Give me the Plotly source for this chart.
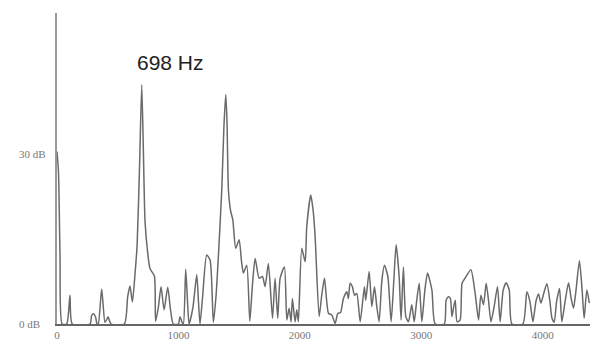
import plotly.graph_objects as go

# Spectrum of a 698 Hz tone: frequency (Hz) and level (dB)
freq_hz = [
    0, 12, 25, 42, 80, 107, 126, 272, 285, 300, 318, 330, 340, 368, 395, 410, 420, 445,
    555, 582, 601, 621, 643, 660, 680, 698, 712, 725, 745, 766, 802, 812, 835, 857, 882,
    912, 935, 958, 1000, 1013, 1030, 1041, 1060, 1075, 1088, 1120, 1151, 1165, 1178, 1200,
    1233, 1261, 1288, 1310, 1329, 1357, 1375, 1390, 1400, 1412, 1430, 1448, 1472, 1500,
    1520, 1535, 1563, 1588, 1610, 1632, 1665, 1692, 1714, 1741, 1775, 1796, 1818, 1838,
    1873, 1893, 1912, 1928, 1939, 1961, 1975, 1988, 2016, 2044, 2057, 2090, 2110, 2126,
    2159, 2180, 2203, 2236, 2263, 2291, 2313, 2335, 2359, 2387, 2400, 2414, 2433, 2450,
    2469, 2497, 2532, 2543, 2571, 2593, 2615, 2634, 2653, 2676, 2697, 2725, 2752, 2775,
    2793, 2818, 2834, 2853, 2873, 2895, 2922, 2942, 2962, 2983, 3005, 3030, 3052, 3088,
    3115, 3190, 3205, 3225, 3240, 3253, 3267, 3280, 3295, 3320, 3336, 3358, 3409, 3444,
    3472, 3491, 3513, 3535, 3555, 3574, 3600, 3628, 3650, 3675, 3700, 3725, 3747, 3837,
    3870, 3895, 3920, 3945, 3966, 3986, 4010, 4035, 4060, 4076, 4095, 4115, 4139, 4158,
    4185, 4213, 4235, 4254, 4275, 4303, 4325, 4342, 4364, 4385,
]
level_db = [
    30.5, 27, 12, 0, 0, 5.1, 0, 0, 1.5, 1.8, 1.2, 0, 0, 6.2, 0.3, 0.8, 1.3, 0,
    0, 4.8, 6.7, 3.9, 9, 14, 28, 42.3, 30, 18.2, 13, 9.8, 8.5, 0.5, 3, 6.6, 2.5,
    6.5, 2.5, 0, 0, 1.3, 0.3, 0, 9.7, 4, 0, 3, 8.7, 4, 0, 5,
    12.2, 11.3, 0.3, 5, 11.9, 23.7, 35, 40.6, 36, 23.7, 20, 18.4, 13.4, 14.9,
    11, 9, 10.4, 0.5, 7, 11.6, 8.1, 8.4, 6.6, 10.7, 1, 8.1, 1, 8.1,
    10.1, 0.7, 2.8, 0.4, 4.5, 0.4, 2.5, 0.4, 13.4, 11, 17.2, 22.8, 20, 15.5,
    1.3, 5, 8.1, 1.9, 1.6, 0.1, 1.9, 2, 4.5, 5.7, 4.5, 7.2, 6.6, 5.1,
    5.4, 0.4, 6.6, 4.2, 9.3, 3.1, 6.6, 3.1, 0.4, 7.8, 10.4, 8.4, 0.4, 8,
    14, 8.4, 0.7, 10.1, 1.3, 0.4, 3.4, 0.4, 4, 7.2, 0.4, 6, 9, 6,
    0, 0, 4.2, 4.8, 4.5, 1.3, 3, 4.2, 0.4, 0.7, 7.2, 8, 9.6, 5.4,
    0.7, 5.1, 3.4, 7.2, 4, 0.4, 3, 6.6, 0.4, 6, 7.3, 6, 0, 0,
    5.7, 4, 0.4, 4, 5.3, 3.7, 5.5, 7.1, 4, 1.1, 0.3, 4, 6.3, 0.4,
    4, 7.3, 4.5, 2.8, 6, 11.2, 6, 1, 6, 3.7,
]

x_tick_vals = [0, 1000, 2000, 3000, 4000]
x_tick_text = ["0", "1000", "2000", "3000", "4000"]
y_tick_vals = [0, 30]
y_tick_text = ["0 dB", "30 dB"]

peak_label = "698 Hz"
peak_label_pos = (931, 46.2)

fig = go.Figure()
fig.add_trace(go.Scatter(
    x=freq_hz, y=level_db, mode="lines",
    line=dict(color="#6a6a6a", width=1.5, shape="spline", smoothing=0.6),
    hoverinfo="skip", showlegend=False,
))

# y-axis labels sit left-aligned in the margin
for v, t in zip(y_tick_vals, y_tick_text):
    fig.add_annotation(
        x=-0.075, xref="paper", xanchor="left",
        y=v, yref="y", yanchor="middle",
        text=t, showarrow=False,
        font=dict(family="Liberation Serif", size=11, color="#777777"),
    )

fig.add_annotation(
    x=peak_label_pos[0], y=peak_label_pos[1], xref="x", yref="y",
    text=peak_label, showarrow=False,
    font=dict(family="Liberation Sans", size=21, color="#222222"),
)

fig.update_layout(
    width=593, height=342,
    margin=dict(l=57, r=3, t=13, b=18),
    paper_bgcolor="white", plot_bgcolor="white",
    xaxis=dict(
        range=[0, 4390], tickvals=x_tick_vals, ticktext=x_tick_text,
        showgrid=False, zeroline=False, showline=True, linecolor="#666666", linewidth=1.5,
        ticks="", ticklabelstandoff=0, automargin=False,
        tickfont=dict(family="Liberation Serif", size=11, color="#777777"),
    ),
    yaxis=dict(
        range=[0, 55], showticklabels=False, showgrid=False, zeroline=False,
        showline=True, linecolor="#999999", linewidth=1.8, ticks="", automargin=False,
    ),
)

fig.write_html("out.html")
